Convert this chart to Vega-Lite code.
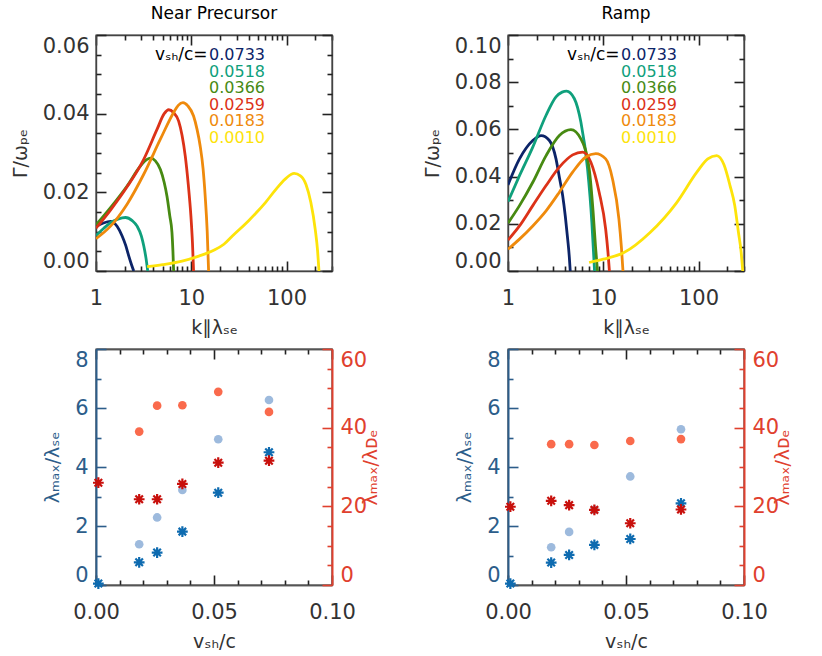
{
"$schema":"https://vega.github.io/schema/vega-lite/v6.json",
"padding":{"left":10,"top":4,"right":5,"bottom":5},
"datasets":{
"curves":[
{"p":"N","v":"0.0733","k":1,"g":0.0113},{"p":"N","v":"0.0733","k":1.2,"g":0.0122},{"p":"N","v":"0.0733","k":1.42,"g":0.0126},{"p":"N","v":"0.0733","k":1.67,"g":0.0113},{"p":"N","v":"0.0733","k":1.88,"g":0.0089},{"p":"N","v":"0.0733","k":2.05,"g":0.0065},{"p":"N","v":"0.0733","k":2.21,"g":0.0038},{"p":"N","v":"0.0733","k":2.36,"g":0.0016},{"p":"N","v":"0.0733","k":2.49,"g":0},
{"p":"N","v":"0.0518","k":1,"g":0.009},{"p":"N","v":"0.0518","k":1.2,"g":0.0108},{"p":"N","v":"0.0518","k":1.42,"g":0.0123},{"p":"N","v":"0.0518","k":1.7,"g":0.0132},{"p":"N","v":"0.0518","k":2.04,"g":0.0136},{"p":"N","v":"0.0518","k":2.4,"g":0.0128},{"p":"N","v":"0.0518","k":2.7,"g":0.0114},{"p":"N","v":"0.0518","k":3.0,"g":0.0088},{"p":"N","v":"0.0518","k":3.17,"g":0.0064},{"p":"N","v":"0.0518","k":3.35,"g":0.0032},{"p":"N","v":"0.0518","k":3.49,"g":0},
{"p":"N","v":"0.0366","k":1,"g":0.0117},{"p":"N","v":"0.0366","k":1.42,"g":0.0161},{"p":"N","v":"0.0366","k":2.12,"g":0.0216},{"p":"N","v":"0.0366","k":2.93,"g":0.0267},{"p":"N","v":"0.0366","k":3.4,"g":0.0283},{"p":"N","v":"0.0366","k":3.73,"g":0.0287},{"p":"N","v":"0.0366","k":4.2,"g":0.028},{"p":"N","v":"0.0366","k":4.74,"g":0.0258},{"p":"N","v":"0.0366","k":5.2,"g":0.0225},{"p":"N","v":"0.0366","k":5.56,"g":0.019},{"p":"N","v":"0.0366","k":5.95,"g":0.014},{"p":"N","v":"0.0366","k":6.27,"g":0.0098},{"p":"N","v":"0.0366","k":6.42,"g":0.005},{"p":"N","v":"0.0366","k":6.53,"g":0},
{"p":"N","v":"0.0259","k":1,"g":0.0109},{"p":"N","v":"0.0259","k":1.42,"g":0.0155},{"p":"N","v":"0.0259","k":2.12,"g":0.0214},{"p":"N","v":"0.0259","k":3.17,"g":0.0284},{"p":"N","v":"0.0259","k":4.37,"g":0.036},{"p":"N","v":"0.0259","k":5.2,"g":0.04},{"p":"N","v":"0.0259","k":5.79,"g":0.041},{"p":"N","v":"0.0259","k":6.5,"g":0.0403},{"p":"N","v":"0.0259","k":7.37,"g":0.0381},{"p":"N","v":"0.0259","k":8.0,"g":0.0345},{"p":"N","v":"0.0259","k":8.65,"g":0.0292},{"p":"N","v":"0.0259","k":9.3,"g":0.022},{"p":"N","v":"0.0259","k":9.91,"g":0.014},{"p":"N","v":"0.0259","k":10.3,"g":0.007},{"p":"N","v":"0.0259","k":10.57,"g":0},
{"p":"N","v":"0.0183","k":1,"g":0.0082},{"p":"N","v":"0.0183","k":1.42,"g":0.0114},{"p":"N","v":"0.0183","k":2.12,"g":0.017},{"p":"N","v":"0.0183","k":3.17,"g":0.0246},{"p":"N","v":"0.0183","k":4.74,"g":0.0335},{"p":"N","v":"0.0183","k":6.53,"g":0.0403},{"p":"N","v":"0.0183","k":7.3,"g":0.0421},{"p":"N","v":"0.0183","k":8.18,"g":0.0428},{"p":"N","v":"0.0183","k":9.2,"g":0.042},{"p":"N","v":"0.0183","k":10.57,"g":0.0394},{"p":"N","v":"0.0183","k":11.5,"g":0.036},{"p":"N","v":"0.0183","k":12.4,"g":0.0318},{"p":"N","v":"0.0183","k":13.3,"g":0.026},{"p":"N","v":"0.0183","k":14.0,"g":0.019},{"p":"N","v":"0.0183","k":14.7,"g":0.01},{"p":"N","v":"0.0183","k":15.2,"g":0},
{"p":"N","v":"0.0010","k":3.44,"g":0.0011},{"p":"N","v":"0.0010","k":5,"g":0.0016},{"p":"N","v":"0.0010","k":8,"g":0.0025},{"p":"N","v":"0.0010","k":12,"g":0.0038},{"p":"N","v":"0.0010","k":17,"g":0.0052},{"p":"N","v":"0.0010","k":22,"g":0.0068},{"p":"N","v":"0.0010","k":27,"g":0.0089},{"p":"N","v":"0.0010","k":40,"g":0.0128},{"p":"N","v":"0.0010","k":60,"g":0.0174},{"p":"N","v":"0.0010","k":80,"g":0.0212},{"p":"N","v":"0.0010","k":100,"g":0.0237},{"p":"N","v":"0.0010","k":120,"g":0.0248},{"p":"N","v":"0.0010","k":140,"g":0.0242},{"p":"N","v":"0.0010","k":160,"g":0.022},{"p":"N","v":"0.0010","k":180,"g":0.0174},{"p":"N","v":"0.0010","k":200,"g":0.0106},{"p":"N","v":"0.0010","k":212,"g":0.005},{"p":"N","v":"0.0010","k":219,"g":0},
{"p":"R","v":"0.0733","k":1,"g":0.0365},{"p":"R","v":"0.0733","k":1.32,"g":0.0475},{"p":"R","v":"0.0733","k":1.82,"g":0.0553},{"p":"R","v":"0.0733","k":2.23,"g":0.0574},{"p":"R","v":"0.0733","k":2.72,"g":0.0553},{"p":"R","v":"0.0733","k":3.19,"g":0.0475},{"p":"R","v":"0.0733","k":3.46,"g":0.0397},{"p":"R","v":"0.0733","k":3.75,"g":0.0319},{"p":"R","v":"0.0733","k":4.0,"g":0.023},{"p":"R","v":"0.0733","k":4.23,"g":0.0135},{"p":"R","v":"0.0733","k":4.4,"g":0.006},{"p":"R","v":"0.0733","k":4.5,"g":0},
{"p":"R","v":"0.0518","k":1,"g":0.0294},{"p":"R","v":"0.0518","k":1.32,"g":0.0404},{"p":"R","v":"0.0518","k":1.82,"g":0.0525},{"p":"R","v":"0.0518","k":2.51,"g":0.066},{"p":"R","v":"0.0518","k":3.19,"g":0.0738},{"p":"R","v":"0.0518","k":3.7,"g":0.0758},{"p":"R","v":"0.0518","k":4.12,"g":0.0762},{"p":"R","v":"0.0518","k":4.96,"g":0.0731},{"p":"R","v":"0.0518","k":5.82,"g":0.0631},{"p":"R","v":"0.0518","k":6.84,"g":0.0433},{"p":"R","v":"0.0518","k":7.59,"g":0.0206},{"p":"R","v":"0.0518","k":7.9,"g":0.008},{"p":"R","v":"0.0518","k":8.1,"g":0},
{"p":"R","v":"0.0366","k":1,"g":0.0203},{"p":"R","v":"0.0366","k":1.32,"g":0.0277},{"p":"R","v":"0.0366","k":1.82,"g":0.0376},{"p":"R","v":"0.0366","k":2.51,"g":0.0489},{"p":"R","v":"0.0366","k":3.46,"g":0.0574},{"p":"R","v":"0.0366","k":4.58,"g":0.0599},{"p":"R","v":"0.0366","k":5.82,"g":0.056},{"p":"R","v":"0.0366","k":7.11,"g":0.0433},{"p":"R","v":"0.0366","k":7.83,"g":0.0248},{"p":"R","v":"0.0366","k":8.3,"g":0.01},{"p":"R","v":"0.0366","k":8.7,"g":0},
{"p":"R","v":"0.0259","k":1,"g":0.0131},{"p":"R","v":"0.0259","k":1.32,"g":0.0191},{"p":"R","v":"0.0259","k":1.82,"g":0.0277},{"p":"R","v":"0.0259","k":2.51,"g":0.0362},{"p":"R","v":"0.0259","k":3.46,"g":0.044},{"p":"R","v":"0.0259","k":4.77,"g":0.0492},{"p":"R","v":"0.0259","k":6.07,"g":0.0504},{"p":"R","v":"0.0259","k":7.41,"g":0.0461},{"p":"R","v":"0.0259","k":9.05,"g":0.0334},{"p":"R","v":"0.0259","k":10.6,"g":0.0177},{"p":"R","v":"0.0259","k":11.2,"g":0.008},{"p":"R","v":"0.0259","k":11.6,"g":0},
{"p":"R","v":"0.0183","k":1,"g":0.0092},{"p":"R","v":"0.0183","k":1.32,"g":0.0135},{"p":"R","v":"0.0183","k":1.82,"g":0.0191},{"p":"R","v":"0.0183","k":2.51,"g":0.0255},{"p":"R","v":"0.0183","k":3.46,"g":0.0334},{"p":"R","v":"0.0183","k":4.77,"g":0.0419},{"p":"R","v":"0.0183","k":6.57,"g":0.0483},{"p":"R","v":"0.0183","k":8.35,"g":0.0497},{"p":"R","v":"0.0183","k":10.6,"g":0.0475},{"p":"R","v":"0.0183","k":12.5,"g":0.039},{"p":"R","v":"0.0183","k":14.6,"g":0.022},{"p":"R","v":"0.0183","k":15.5,"g":0.01},{"p":"R","v":"0.0183","k":16.1,"g":0},
{"p":"R","v":"0.0010","k":7.1,"g":0.0036},{"p":"R","v":"0.0010","k":10,"g":0.005},{"p":"R","v":"0.0010","k":16.5,"g":0.0078},{"p":"R","v":"0.0010","k":31,"g":0.0163},{"p":"R","v":"0.0010","k":59,"g":0.029},{"p":"R","v":"0.0010","k":96,"g":0.0419},{"p":"R","v":"0.0010","k":125,"g":0.0475},{"p":"R","v":"0.0010","k":155,"g":0.0489},{"p":"R","v":"0.0010","k":185,"g":0.045},{"p":"R","v":"0.0010","k":214,"g":0.0362},{"p":"R","v":"0.0010","k":240,"g":0.0277},{"p":"R","v":"0.0010","k":262,"g":0.0165},{"p":"R","v":"0.0010","k":280,"g":0.008},{"p":"R","v":"0.0010","k":291,"g":0}
],
"pts":[
{"p":"N","q":"sc","x":0.0183,"y":1.38},{"p":"N","q":"sc","x":0.0259,"y":2.29},{"p":"N","q":"sc","x":0.0366,"y":3.22},{"p":"N","q":"sc","x":0.0518,"y":4.94},{"p":"N","q":"sc","x":0.0733,"y":6.27},
{"p":"N","q":"ss","x":0.001,"y":0.05},{"p":"N","q":"ss","x":0.0183,"y":0.77},{"p":"N","q":"ss","x":0.0259,"y":1.10},{"p":"N","q":"ss","x":0.0366,"y":1.81},{"p":"N","q":"ss","x":0.0518,"y":3.13},{"p":"N","q":"ss","x":0.0733,"y":4.50},
{"p":"N","q":"dc","x":0.0183,"y":39.0},{"p":"N","q":"dc","x":0.0259,"y":45.6},{"p":"N","q":"dc","x":0.0366,"y":45.7},{"p":"N","q":"dc","x":0.0518,"y":49.1},{"p":"N","q":"dc","x":0.0733,"y":44.0},
{"p":"N","q":"ds","x":0.001,"y":26.0},{"p":"N","q":"ds","x":0.0183,"y":21.8},{"p":"N","q":"ds","x":0.0259,"y":21.8},{"p":"N","q":"ds","x":0.0366,"y":25.7},{"p":"N","q":"ds","x":0.0518,"y":31.1},{"p":"N","q":"ds","x":0.0733,"y":31.6},
{"p":"R","q":"sc","x":0.0183,"y":1.28},{"p":"R","q":"sc","x":0.0259,"y":1.80},{"p":"R","q":"sc","x":0.0366,"y":2.55},{"p":"R","q":"sc","x":0.0518,"y":3.68},{"p":"R","q":"sc","x":0.0733,"y":5.28},
{"p":"R","q":"ss","x":0.001,"y":0.05},{"p":"R","q":"ss","x":0.0183,"y":0.76},{"p":"R","q":"ss","x":0.0259,"y":1.02},{"p":"R","q":"ss","x":0.0366,"y":1.36},{"p":"R","q":"ss","x":0.0518,"y":1.56},{"p":"R","q":"ss","x":0.0733,"y":2.77},
{"p":"R","q":"dc","x":0.0183,"y":35.8},{"p":"R","q":"dc","x":0.0259,"y":35.8},{"p":"R","q":"dc","x":0.0366,"y":35.6},{"p":"R","q":"dc","x":0.0518,"y":36.6},{"p":"R","q":"dc","x":0.0733,"y":37.1},
{"p":"R","q":"ds","x":0.001,"y":19.9},{"p":"R","q":"ds","x":0.0183,"y":21.4},{"p":"R","q":"ds","x":0.0259,"y":20.3},{"p":"R","q":"ds","x":0.0366,"y":19.1},{"p":"R","q":"ds","x":0.0518,"y":15.7},{"p":"R","q":"ds","x":0.0733,"y":19.2}
]
},
"columns":2,
"bounds":"flush",
"spacing":{"column":176,"row":78},
"resolve":{"scale":{"color":"independent"},"legend":{"color":"independent"}},
"concat":[
{
"data":{"name":"curves"},
"transform":[{"filter":"datum.p==='N'"}],
"width":236,"height":236,
"title":{"text":"Near Precursor","fontSize":17,"fontWeight":"normal","font":"DejaVu Sans","color":"#000","offset":11},
"layer":[
{"mark":{"type":"line","strokeWidth":2.8,"interpolate":"monotone","clip":true},
"encoding":{
"x":{"field":"k","type":"quantitative","scale":{"type":"log","domain":[1,300],"nice":false},"axis":{"orient":"bottom","values":[1,10,100],"format":"~g","domain":true,"domainColor":"#444","domainWidth":1.4,"tickSize":-10,"tickColor":"#222","tickWidth":1.6,"labelPadding":26,"labelFlush":false,"labelFont":"DejaVu Sans","labelFontSize":21,"labelColor":"#333","title":"k∥λₛₑ","titleFont":"DejaVu Sans","titleFontSize":19,"titleColor":"#333","titleFontWeight":"normal","titlePadding":10}},
"y":{"field":"g","type":"quantitative","scale":{"domain":[0,0.06],"nice":false,"zero":false},"axis":{"orient":"left","values":[0,0.02,0.04,0.06],"format":".2f","domain":true,"domainColor":"#444","domainWidth":1.4,"tickSize":-10,"tickColor":"#222","tickWidth":1.6,"labelPadding":17,"labelFlush":true,"labelFont":"DejaVu Sans","labelFontSize":21,"labelColor":"#333","title":"Γ/ωₚₑ","titleFont":"DejaVu Sans","titleFontSize":19,"titleColor":"#333","titleFontWeight":"normal","titlePadding":12}},
"color":{"field":"v","type":"nominal","scale":{"domain":["0.0733","0.0518","0.0366","0.0259","0.0183","0.0010"],"range":["#0c2468","#0fa07c","#478a12","#dc3218","#ef8a0c","#fde30a"]},
"legend":{"orient":"none","legendX":59,"legendY":12,"title":"vₛₕ/c=","titleOrient":"left","titleAnchor":"start","titleBaseline":"top","titleFont":"DejaVu Sans","titleFontSize":17,"titleFontWeight":"normal","titleColor":"#000","titlePadding":-15,"labelFont":"DejaVu Sans","labelFontSize":16,"labelOffset":0,"symbolSize":0,"symbolStrokeWidth":0,"symbolOpacity":0,"symbolType":"stroke","rowPadding":0.5,
"encode":{"labels":{"update":{"fill":{"signal":"datum.value==='0.0733'?'#0c2468':datum.value==='0.0518'?'#0fa07c':datum.value==='0.0366'?'#478a12':datum.value==='0.0259'?'#dc3218':datum.value==='0.0183'?'#ef8a0c':'#fde30a'"}}}}}}
}},
{"mark":{"type":"point","opacity":0},"encoding":{
"x":{"field":"k","type":"quantitative","axis":{"orient":"top","values":[1,10,100],"domain":true,"domainColor":"#444","domainWidth":1.4,"tickSize":-10,"tickColor":"#222","tickWidth":1.6,"labels":false,"title":null}},
"y":{"field":"g","type":"quantitative","axis":{"orient":"right","values":[0,0.02,0.04,0.06],"domain":true,"domainColor":"#444","domainWidth":1.4,"tickSize":-10,"tickColor":"#222","tickWidth":1.6,"labels":false,"title":null}}}},
{"mark":{"type":"point","opacity":0},"encoding":{
"x":{"field":"k","type":"quantitative","axis":{"orient":"bottom","values":[2,3,4,5,6,7,8,9,20,30,40,50,60,70,80,90,200,300],"tickSize":-5,"tickColor":"#222","tickWidth":1.6,"labels":false,"title":null}},
"y":{"field":"g","type":"quantitative","axis":{"orient":"left","values":[0.005,0.01,0.015,0.025,0.03,0.035,0.045,0.05,0.055],"tickSize":-5,"tickColor":"#222","tickWidth":1.6,"labels":false,"title":null}}}},
{"mark":{"type":"point","opacity":0},"encoding":{
"x":{"field":"k","type":"quantitative","axis":{"orient":"top","values":[2,3,4,5,6,7,8,9,20,30,40,50,60,70,80,90,200,300],"tickSize":-5,"tickColor":"#222","tickWidth":1.6,"labels":false,"title":null}},
"y":{"field":"g","type":"quantitative","axis":{"orient":"right","values":[0.005,0.01,0.015,0.025,0.03,0.035,0.045,0.05,0.055],"tickSize":-5,"tickColor":"#222","tickWidth":1.6,"labels":false,"title":null}}}}
],
"resolve":{"axis":{"x":"independent","y":"independent"}}
},
{
"data":{"name":"curves"},
"transform":[{"filter":"datum.p==='R'"}],
"width":236,"height":236,
"title":{"text":"Ramp","fontSize":17,"fontWeight":"normal","font":"DejaVu Sans","color":"#000","offset":11},
"layer":[
{"mark":{"type":"line","strokeWidth":2.8,"interpolate":"monotone","clip":true},
"encoding":{
"x":{"field":"k","type":"quantitative","scale":{"type":"log","domain":[1,300],"nice":false},"axis":{"orient":"bottom","values":[1,10,100],"format":"~g","domain":true,"domainColor":"#444","domainWidth":1.4,"tickSize":-10,"tickColor":"#222","tickWidth":1.6,"labelPadding":26,"labelFlush":false,"labelFont":"DejaVu Sans","labelFontSize":21,"labelColor":"#333","title":"k∥λₛₑ","titleFont":"DejaVu Sans","titleFontSize":19,"titleColor":"#333","titleFontWeight":"normal","titlePadding":10}},
"y":{"field":"g","type":"quantitative","scale":{"domain":[0,0.1],"nice":false,"zero":false},"axis":{"orient":"left","values":[0,0.02,0.04,0.06,0.08,0.1],"format":".2f","domain":true,"domainColor":"#444","domainWidth":1.4,"tickSize":-10,"tickColor":"#222","tickWidth":1.6,"labelPadding":17,"labelFlush":true,"labelFont":"DejaVu Sans","labelFontSize":21,"labelColor":"#333","title":"Γ/ωₚₑ","titleFont":"DejaVu Sans","titleFontSize":19,"titleColor":"#333","titleFontWeight":"normal","titlePadding":12}},
"color":{"field":"v","type":"nominal","scale":{"domain":["0.0733","0.0518","0.0366","0.0259","0.0183","0.0010"],"range":["#0c2468","#0fa07c","#478a12","#dc3218","#ef8a0c","#fde30a"]},
"legend":{"orient":"none","legendX":59,"legendY":12,"title":"vₛₕ/c=","titleOrient":"left","titleAnchor":"start","titleBaseline":"top","titleFont":"DejaVu Sans","titleFontSize":17,"titleFontWeight":"normal","titleColor":"#000","titlePadding":-15,"labelFont":"DejaVu Sans","labelFontSize":16,"labelOffset":0,"symbolSize":0,"symbolStrokeWidth":0,"symbolOpacity":0,"symbolType":"stroke","rowPadding":0.5,
"encode":{"labels":{"update":{"fill":{"signal":"datum.value==='0.0733'?'#0c2468':datum.value==='0.0518'?'#0fa07c':datum.value==='0.0366'?'#478a12':datum.value==='0.0259'?'#dc3218':datum.value==='0.0183'?'#ef8a0c':'#fde30a'"}}}}}}
}},
{"mark":{"type":"point","opacity":0},"encoding":{
"x":{"field":"k","type":"quantitative","axis":{"orient":"top","values":[1,10,100],"domain":true,"domainColor":"#444","domainWidth":1.4,"tickSize":-10,"tickColor":"#222","tickWidth":1.6,"labels":false,"title":null}},
"y":{"field":"g","type":"quantitative","axis":{"orient":"right","values":[0,0.02,0.04,0.06,0.08,0.1],"domain":true,"domainColor":"#444","domainWidth":1.4,"tickSize":-10,"tickColor":"#222","tickWidth":1.6,"labels":false,"title":null}}}},
{"mark":{"type":"point","opacity":0},"encoding":{
"x":{"field":"k","type":"quantitative","axis":{"orient":"bottom","values":[2,3,4,5,6,7,8,9,20,30,40,50,60,70,80,90,200,300],"tickSize":-5,"tickColor":"#222","tickWidth":1.6,"labels":false,"title":null}},
"y":{"field":"g","type":"quantitative","axis":{"orient":"left","values":[0.01,0.03,0.05,0.07,0.09],"tickSize":-5,"tickColor":"#222","tickWidth":1.6,"labels":false,"title":null}}}},
{"mark":{"type":"point","opacity":0},"encoding":{
"x":{"field":"k","type":"quantitative","axis":{"orient":"top","values":[2,3,4,5,6,7,8,9,20,30,40,50,60,70,80,90,200,300],"tickSize":-5,"tickColor":"#222","tickWidth":1.6,"labels":false,"title":null}},
"y":{"field":"g","type":"quantitative","axis":{"orient":"right","values":[0.01,0.03,0.05,0.07,0.09],"tickSize":-5,"tickColor":"#222","tickWidth":1.6,"labels":false,"title":null}}}}
],
"resolve":{"axis":{"x":"independent","y":"independent"}}
},
{
"data":{"name":"pts"},
"transform":[{"filter":"datum.p==='N'"}],
"width":236,"height":236,
"layer":[
{"transform":[{"filter":"datum.q==='sc'"}],"mark":{"type":"circle","size":75,"opacity":1,"color":"#9dbadd"},
"encoding":{
"x":{"field":"x","type":"quantitative","scale":{"domain":[0,0.1],"nice":false},"axis":{"orient":"bottom","values":[0,0.05,0.1],"format":".2f","domain":true,"domainColor":"#555","domainWidth":1.4,"tickSize":-10,"tickColor":"#222","tickWidth":1.6,"labelPadding":26,"labelFlush":false,"labelFont":"DejaVu Sans","labelFontSize":21,"labelColor":"#333","title":"vₛₕ/c","titleFont":"DejaVu Sans","titleFontSize":19,"titleColor":"#333","titleFontWeight":"normal","titlePadding":10}},
"y":{"field":"y","type":"quantitative","scale":{"domain":[0,8],"nice":false},"axis":{"orient":"left","values":[0,2,4,6,8],"tickSize":-10,"tickWidth":1.6,"labelPadding":18,"labelFlush":true,"domain":true,"domainColor":"#2c5d8a","domainWidth":2,"tickColor":"#2c5d8a","labelColor":"#2c5d8a","labelFont":"DejaVu Sans","labelFontSize":21,"titleColor":"#2c5d8a","title":"λₘₐₓ/λₛₑ","titleFont":"DejaVu Sans","titleFontSize":19,"titleFontWeight":"normal","titlePadding":12}}}},
{"transform":[{"filter":"datum.q==='dc'"}],"mark":{"type":"circle","size":75,"opacity":1,"color":"#fa6a4c"},
"encoding":{
"x":{"field":"x","type":"quantitative","axis":{"orient":"top","values":[0,0.05,0.1],"domain":true,"domainColor":"#555","domainWidth":1.4,"tickSize":-10,"tickColor":"#222","tickWidth":1.6,"labels":false,"title":null}},
"y":{"field":"y","type":"quantitative","scale":{"domain":[0,60],"nice":false},"axis":{"orient":"right","values":[0,20,40,60],"tickSize":-10,"tickWidth":1.6,"labelPadding":18,"labelFlush":true,"domain":true,"domainColor":"#e0402e","domainWidth":2,"tickColor":"#e0402e","labelColor":"#e0402e","labelFont":"DejaVu Sans","labelFontSize":21,"titleColor":"#e0402e","title":"λₘₐₓ/λᴅₑ","titleFont":"DejaVu Sans","titleFontSize":19,"titleFontWeight":"normal","titleAngle":270,"titlePadding":14}}}},
{"transform":[{"filter":"datum.q==='ss'"}],"mark":{"type":"point","shape":"M0,-1L0,1M-1,0L1,0M-0.7,-0.7L0.7,0.7M-0.7,0.7L0.7,-0.7","size":115,"filled":false,"strokeWidth":2.2,"opacity":1,"color":"#0e6bb0"},
"encoding":{
"x":{"field":"x","type":"quantitative","axis":{"orient":"bottom","values":[0.01,0.02,0.03,0.04,0.06,0.07,0.08,0.09],"domain":true,"domainColor":"#555","domainWidth":1.4,"tickSize":-5,"tickColor":"#222","tickWidth":1.6,"labels":false,"title":null}},
"y":{"field":"y","type":"quantitative","scale":{"domain":[0,8],"nice":false},"axis":{"orient":"left","values":[1,3,5,7],"tickSize":-5,"tickWidth":1.6,"tickColor":"#2c5d8a","labels":false,"title":null}}}},
{"transform":[{"filter":"datum.q==='ds'"}],"mark":{"type":"point","shape":"M0,-1L0,1M-1,0L1,0M-0.7,-0.7L0.7,0.7M-0.7,0.7L0.7,-0.7","size":115,"filled":false,"strokeWidth":2.2,"opacity":1,"color":"#c8100c"},
"encoding":{
"x":{"field":"x","type":"quantitative","axis":{"orient":"top","values":[0.01,0.02,0.03,0.04,0.06,0.07,0.08,0.09],"domain":true,"domainColor":"#555","domainWidth":1.4,"tickSize":-5,"tickColor":"#222","tickWidth":1.6,"labels":false,"title":null}},
"y":{"field":"y","type":"quantitative","scale":{"domain":[0,60],"nice":false},"axis":{"orient":"right","values":[5,10,15,25,30,35,45,50,55],"tickSize":-5,"tickWidth":1.6,"tickColor":"#e0402e","labels":false,"title":null}}}}
],
"resolve":{"scale":{"y":"independent"},"axis":{"x":"independent","y":"independent"}}
},
{
"data":{"name":"pts"},
"transform":[{"filter":"datum.p==='R'"}],
"width":236,"height":236,
"layer":[
{"transform":[{"filter":"datum.q==='sc'"}],"mark":{"type":"circle","size":75,"opacity":1,"color":"#9dbadd"},
"encoding":{
"x":{"field":"x","type":"quantitative","scale":{"domain":[0,0.1],"nice":false},"axis":{"orient":"bottom","values":[0,0.05,0.1],"format":".2f","domain":true,"domainColor":"#555","domainWidth":1.4,"tickSize":-10,"tickColor":"#222","tickWidth":1.6,"labelPadding":26,"labelFlush":false,"labelFont":"DejaVu Sans","labelFontSize":21,"labelColor":"#333","title":"vₛₕ/c","titleFont":"DejaVu Sans","titleFontSize":19,"titleColor":"#333","titleFontWeight":"normal","titlePadding":10}},
"y":{"field":"y","type":"quantitative","scale":{"domain":[0,8],"nice":false},"axis":{"orient":"left","values":[0,2,4,6,8],"tickSize":-10,"tickWidth":1.6,"labelPadding":18,"labelFlush":true,"domain":true,"domainColor":"#2c5d8a","domainWidth":2,"tickColor":"#2c5d8a","labelColor":"#2c5d8a","labelFont":"DejaVu Sans","labelFontSize":21,"titleColor":"#2c5d8a","title":"λₘₐₓ/λₛₑ","titleFont":"DejaVu Sans","titleFontSize":19,"titleFontWeight":"normal","titlePadding":12}}}},
{"transform":[{"filter":"datum.q==='dc'"}],"mark":{"type":"circle","size":75,"opacity":1,"color":"#fa6a4c"},
"encoding":{
"x":{"field":"x","type":"quantitative","axis":{"orient":"top","values":[0,0.05,0.1],"domain":true,"domainColor":"#555","domainWidth":1.4,"tickSize":-10,"tickColor":"#222","tickWidth":1.6,"labels":false,"title":null}},
"y":{"field":"y","type":"quantitative","scale":{"domain":[0,60],"nice":false},"axis":{"orient":"right","values":[0,20,40,60],"tickSize":-10,"tickWidth":1.6,"labelPadding":18,"labelFlush":true,"domain":true,"domainColor":"#e0402e","domainWidth":2,"tickColor":"#e0402e","labelColor":"#e0402e","labelFont":"DejaVu Sans","labelFontSize":21,"titleColor":"#e0402e","title":"λₘₐₓ/λᴅₑ","titleFont":"DejaVu Sans","titleFontSize":19,"titleFontWeight":"normal","titleAngle":270,"titlePadding":14}}}},
{"transform":[{"filter":"datum.q==='ss'"}],"mark":{"type":"point","shape":"M0,-1L0,1M-1,0L1,0M-0.7,-0.7L0.7,0.7M-0.7,0.7L0.7,-0.7","size":115,"filled":false,"strokeWidth":2.2,"opacity":1,"color":"#0e6bb0"},
"encoding":{
"x":{"field":"x","type":"quantitative","axis":{"orient":"bottom","values":[0.01,0.02,0.03,0.04,0.06,0.07,0.08,0.09],"domain":true,"domainColor":"#555","domainWidth":1.4,"tickSize":-5,"tickColor":"#222","tickWidth":1.6,"labels":false,"title":null}},
"y":{"field":"y","type":"quantitative","scale":{"domain":[0,8],"nice":false},"axis":{"orient":"left","values":[1,3,5,7],"tickSize":-5,"tickWidth":1.6,"tickColor":"#2c5d8a","labels":false,"title":null}}}},
{"transform":[{"filter":"datum.q==='ds'"}],"mark":{"type":"point","shape":"M0,-1L0,1M-1,0L1,0M-0.7,-0.7L0.7,0.7M-0.7,0.7L0.7,-0.7","size":115,"filled":false,"strokeWidth":2.2,"opacity":1,"color":"#c8100c"},
"encoding":{
"x":{"field":"x","type":"quantitative","axis":{"orient":"top","values":[0.01,0.02,0.03,0.04,0.06,0.07,0.08,0.09],"domain":true,"domainColor":"#555","domainWidth":1.4,"tickSize":-5,"tickColor":"#222","tickWidth":1.6,"labels":false,"title":null}},
"y":{"field":"y","type":"quantitative","scale":{"domain":[0,60],"nice":false},"axis":{"orient":"right","values":[5,10,15,25,30,35,45,50,55],"tickSize":-5,"tickWidth":1.6,"tickColor":"#e0402e","labels":false,"title":null}}}}
],
"resolve":{"scale":{"y":"independent"},"axis":{"x":"independent","y":"independent"}}
}
],
"config":{
"view":{"stroke":"#444","strokeWidth":1.4},
"axis":{"grid":false,"domain":false}
}
}
